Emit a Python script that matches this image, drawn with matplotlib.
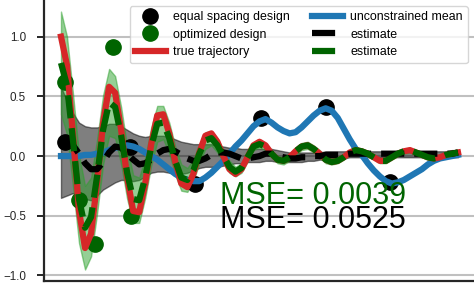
import numpy as np
import matplotlib
matplotlib.use('Agg')
import matplotlib.pyplot as plt

plt.rcParams['font.family'] = ['Liberation Sans', 'DejaVu Sans']

# sampling grid of the trajectories
t = np.linspace(0, 10, 67)

true_traj = [1.00, 0.76, 0.17, -0.46, -0.77,
             -0.65, -0.22, 0.28, 0.58,
             0.53, 0.22, -0.18, -0.46,
             -0.47, -0.23, 0.10, 0.34,
             0.35, 0.19, -0.05, -0.23,
             -0.26, -0.15, 0.03, 0.17,
             0.19, 0.12, 0.00, -0.11, -0.15,
             -0.11, -0.01, 0.09,
             0.12, 0.09, 0.02, -0.03,
             -0.04, -0.01, 0.04, 0.08,
             0.09, 0.06, 0.02, -0.03,
             -0.05, -0.04, -0.01, 0.03, 0.05,
             0.04, 0.02, -0.01, -0.04,
             -0.04, -0.01, 0.02, 0.04,
             0.05, 0.03, 0.01, -0.01,
             -0.02, -0.01, 0.01, 0.02, 0.03]

# estimate from the optimized design (green) and its spread
est_opt = [0.78, 0.59, 0.13, -0.36, -0.60,
           -0.51, -0.17, 0.22, 0.45,
           0.41, 0.17, -0.14, -0.36,
           -0.37, -0.18, 0.08, 0.27,
           0.28, 0.15, -0.04, -0.18,
           -0.20, -0.12, 0.02, 0.13,
           0.15, 0.09, 0.00, -0.09, -0.13,
           -0.10, -0.01, 0.08,
           0.10, 0.08, 0.02, -0.03,
           -0.04, -0.01, 0.04, 0.08,
           0.09, 0.06, 0.02, -0.03,
           -0.05, -0.04, -0.01, 0.03, 0.05,
           0.04, 0.02, -0.01, -0.04,
           -0.04, -0.01, 0.02, 0.04,
           0.05, 0.03, 0.01, -0.01,
           -0.02, -0.01, 0.01, 0.02, 0.03]
est_opt_sd = [0.43, 0.41, 0.39, 0.37, 0.35,
              0.33, 0.31, 0.29, 0.28,
              0.26, 0.24, 0.22, 0.20,
              0.19, 0.17, 0.16, 0.15,
              0.14, 0.13, 0.12, 0.11,
              0.10, 0.09, 0.08, 0.07,
              0.06, 0.06, 0.05, 0.05, 0.04,
              0.04, 0.04, 0.03,
              0.03, 0.03, 0.03, 0.03,
              0.03, 0.03, 0.03, 0.03,
              0.03, 0.03, 0.03, 0.03,
              0.02, 0.02, 0.02, 0.02, 0.02,
              0.02, 0.02, 0.02, 0.02,
              0.02, 0.02, 0.02, 0.02,
              0.02, 0.02, 0.02, 0.02,
              0.02, 0.02, 0.02, 0.02, 0.02]

# estimate from the equal spacing design (black) and its band
est_eq = [0.11, 0.13, 0.09, 0.02, -0.06,
          -0.11, -0.11, -0.05, 0.03,
          0.08, 0.07, 0.02, -0.03,
          -0.07, -0.06, -0.03, 0.02,
          0.05, 0.06, 0.04, 0.01,
          -0.02, -0.04, -0.04, -0.02,
          0.01, 0.03, 0.03, 0.02, 0.00,
          -0.02, -0.02, -0.01,
          0.00, 0.02, 0.02, 0.00,
          -0.01, -0.02, -0.02, -0.01,
          -0.01, 0.00, 0.00, 0.01,
          0.01, 0.01, 0.01, 0.02, 0.02,
          0.02, 0.02, 0.02, 0.02,
          0.02, 0.02, 0.02, 0.02,
          0.02, 0.02, 0.02, 0.02,
          0.02, 0.02, 0.02, 0.02, 0.03]
est_eq_hi = [0.58, 0.46, 0.36, 0.28, 0.25,
             0.24, 0.24, 0.25, 0.27,
             0.27, 0.25, 0.22, 0.19,
             0.17, 0.16, 0.17, 0.17,
             0.17, 0.16, 0.14, 0.12,
             0.11, 0.10, 0.10, 0.10,
             0.10, 0.09, 0.08, 0.07, 0.07,
             0.06, 0.06, 0.06,
             0.06, 0.06, 0.06, 0.05,
             0.04, 0.03, 0.03, 0.03,
             0.03, 0.03, 0.03, 0.04,
             0.04, 0.04, 0.04, 0.04, 0.04,
             0.04, 0.04, 0.04, 0.04,
             0.04, 0.04, 0.04, 0.04,
             0.04, 0.04, 0.04, 0.04,
             0.04, 0.04, 0.04, 0.05, 0.05]
est_eq_lo = [-0.35, -0.33, -0.31, -0.32, -0.36,
             -0.37, -0.33, -0.28, -0.25,
             -0.22, -0.20, -0.20, -0.21,
             -0.20, -0.17, -0.14, -0.13,
             -0.13, -0.14, -0.15, -0.15,
             -0.14, -0.12, -0.10, -0.09,
             -0.09, -0.09, -0.08, -0.07, -0.06,
             -0.06, -0.05, -0.05,
             -0.05, -0.04, -0.04, -0.05,
             -0.05, -0.05, -0.05, -0.05,
             -0.04, -0.04, -0.03, -0.03,
             -0.02, -0.02, -0.02, -0.01, -0.01,
             -0.01, -0.01, -0.01, -0.01,
             -0.01, -0.01, -0.01, -0.01,
             -0.01, -0.01, -0.01, -0.01,
             -0.01, -0.01, -0.01, -0.01, -0.01]

unc_mean = [0.00, 0.00, 0.00, 0.00, 0.01,
            0.01, 0.02, 0.03, 0.05,
            0.07, 0.08, 0.09, 0.08,
            0.06, 0.03, 0.00, -0.03,
            -0.07, -0.11, -0.15, -0.18,
            -0.20, -0.21, -0.21, -0.18,
            -0.14, -0.09, -0.04, 0.02, 0.08,
            0.13, 0.19, 0.25,
            0.29, 0.31, 0.28, 0.24,
            0.21, 0.19, 0.20, 0.24,
            0.29, 0.34, 0.38, 0.40,
            0.38, 0.32, 0.23, 0.14, 0.06,
            0.01, -0.06, -0.12, -0.17,
            -0.21, -0.23, -0.22, -0.20,
            -0.17, -0.14, -0.11, -0.07,
            -0.04, -0.02, -0.01, 0.00, 0.01]

# measurement designs
eq_t = [0.10, 1.74, 3.38, 5.04, 6.68, 8.29]
eq_y = [0.12, 0.08, -0.23, 0.32, 0.41, -0.22]
opt_t = [0.11, 0.45, 0.86, 1.31, 1.76]
opt_y = [0.62, -0.37, -0.74, 0.91, -0.50]

mse_opt = 0.0039
mse_eq = 0.0525

est_opt = np.array(est_opt)
est_opt_sd = np.array(est_opt_sd)

fig = plt.figure(figsize=(4.74, 2.88), dpi=100)
ax = fig.add_axes([44/474, 7.5/288, 430/474, 280.5/288])

ax.fill_between(t, est_eq_lo, est_eq_hi, color='k', alpha=0.5, lw=1, zorder=2)
ax.fill_between(t, est_opt - est_opt_sd, est_opt + est_opt_sd,
                color='#2ca02c', alpha=0.5, lw=1, zorder=2.1)
h_eq, = ax.plot(eq_t, eq_y, 'o', color='k', ms=11, zorder=2.5)
h_opt, = ax.plot(opt_t, opt_y, 'o', color='darkgreen', ms=11, zorder=2.5)
h_unc, = ax.plot(t, unc_mean, color='#1f77b4', lw=4.5, zorder=3)
h_true, = ax.plot(t, true_traj, color='#d62728', lw=4.5, zorder=4)
h_est1, = ax.plot(t, est_eq, '--', color='k', lw=4.5, zorder=5)
h_est2, = ax.plot(t, est_opt, '--', color='darkgreen', lw=4.5, zorder=6)

ax.text(4.0, -0.4, 'MSE= %.4f' % mse_opt, color='darkgreen', fontsize=22, zorder=7)
ax.text(4.0, -0.6, 'MSE= %.4f' % mse_eq, color='k', fontsize=22, zorder=7)

ax.legend([h_eq, h_opt, h_true, h_unc, h_est1, h_est2],
          ['equal spacing design', 'optimized design', 'true trajectory',
           'unconstrained mean', 'estimate', 'estimate'],
          ncol=2, loc='upper right', fontsize=8.9, handlelength=2.5,
          handletextpad=0.6, columnspacing=1.8, labelspacing=0.45,
          edgecolor='#cccccc', framealpha=0.8)

ax.set_xlim(-0.428, 10.403)
ax.set_ylim(-1.042, 1.307)
ax.set_xticks([])
ax.set_yticks([-1.0, -0.5, 0.0, 0.5, 1.0])
ax.yaxis.grid(True, color='#c0c0c0', lw=1.5)
ax.set_axisbelow(True)
ax.spines['top'].set_visible(False)
ax.spines['right'].set_visible(False)
for s in ['left', 'bottom']:
    ax.spines[s].set_linewidth(1.6)
    ax.spines[s].set_color('#262626')
ax.tick_params(axis='y', length=5, width=1.4, pad=8, labelsize=8.4,
               color='#262626', labelcolor='#262626')

fig.savefig('out.png', dpi=100)
